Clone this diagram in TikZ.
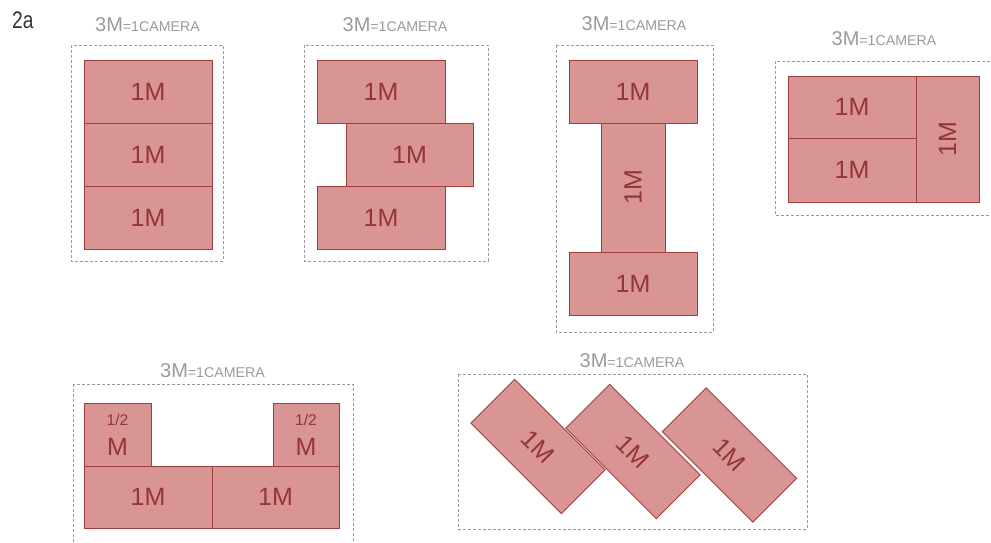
\documentclass[tikz,border=0pt]{standalone}
\usepackage{fontspec}
\setmainfont{Liberation Sans}
\definecolor{fillc}{HTML}{D99594}
\definecolor{bord}{HTML}{A03C3C}
\definecolor{txt}{HTML}{943634}
\definecolor{ttl}{HTML}{9A9A9A}
\definecolor{dsh}{HTML}{9A9A9A}
\tikzset{
  blk/.style={draw=bord, fill=fillc, line width=0.9pt, text=txt,
    font=\fontsize{25}{25}\selectfont, inner sep=0pt, align=center},
  frame/.style={draw=dsh, line width=0.8pt, dash pattern=on 3pt off 2pt},
  ttlnode/.style={text=ttl, anchor=base, inner sep=0pt}
}
\newcommand{\camtitle}{{\fontsize{20}{20}\selectfont 3M}{\fontsize{14.2}{14.2}\selectfont =1CAMERA}}
\begin{document}
\begin{tikzpicture}[x=1pt,y=-1pt]
\useasboundingbox (0,0) rectangle (991,542);
% label
\node[anchor=base west, inner sep=0pt, xscale=0.8, text=black!80, font=\fontsize{24}{24}\selectfont] (lab) at (12,28) {2a};
% ---------- panel 1
\draw[frame] (71,45) rectangle (223,261);
\node[ttlnode] (t1) at (147.5,31) {\camtitle};
\node[blk, minimum width=128pt, minimum height=63pt] (p1a) at (148,91.5) {1M};
\node[blk, minimum width=128pt, minimum height=63pt] (p1b) at (148,154.5) {1M};
\node[blk, minimum width=128pt, minimum height=63pt] (p1c) at (148,217.5) {1M};
% ---------- panel 2
\draw[frame] (304,45) rectangle (488,261);
\node[ttlnode] (t2) at (395,31) {\camtitle};
\node[blk, minimum width=128pt, minimum height=63pt] (p2a) at (381,91.5) {1M};
\node[blk, minimum width=127pt, minimum height=63pt] (p2b) at (409.5,154.5) {1M};
\node[blk, minimum width=128pt, minimum height=63pt] (p2c) at (381,217.5) {1M};
% ---------- panel 3
\draw[frame] (556,45) rectangle (713,332);
\node[ttlnode] (t3) at (634,30) {\camtitle};
\node[blk, minimum width=128pt, minimum height=63pt] (p3a) at (633,91.5) {1M};
\node[blk, minimum width=64pt, minimum height=129pt] (p3b) at (633,187.5) {\rotatebox{90}{1M}};
\node[blk, minimum width=128pt, minimum height=63pt] (p3c) at (633,283.5) {1M};
% ---------- panel 4
\draw[frame] (775,61) rectangle (996,215);
\node[ttlnode] (t4) at (884,45) {\camtitle};
\node[blk, minimum width=128pt, minimum height=62pt] (p4a) at (852,107) {1M};
\node[blk, minimum width=128pt, minimum height=64pt] (p4b) at (852,170) {1M};
\node[blk, minimum width=63pt, minimum height=126pt] (p4c) at (947.5,139) {\rotatebox{90}{1M}};
% ---------- panel 5
\draw[frame] (73,384) rectangle (353,550);
\node[ttlnode] (t5) at (212.5,377) {\camtitle};
\node[blk, minimum width=67pt, minimum height=63pt] (p5a) at (117.5,434.5) {};
\node[blk, minimum width=66pt, minimum height=63pt] (p5b) at (306,434.5) {};
\node[text=txt, anchor=base, inner sep=0pt, font=\fontsize{15.5}{15.5}\selectfont] (h5a) at (117.5,425) {1/2};
\node[text=txt, anchor=base, inner sep=0pt, font=\fontsize{25}{25}\selectfont] (m5a) at (117.5,455) {M};
\node[text=txt, anchor=base, inner sep=0pt, font=\fontsize{15.5}{15.5}\selectfont] (h5b) at (306,425) {1/2};
\node[text=txt, anchor=base, inner sep=0pt, font=\fontsize{25}{25}\selectfont] (m5b) at (306,455) {M};
\node[blk, minimum width=128pt, minimum height=62pt] (p5c) at (148,497) {1M};
\node[blk, minimum width=127pt, minimum height=62pt] (p5d) at (275.5,497) {1M};
% ---------- panel 6
\draw[frame] (458,374) rectangle (807,529);
\node[ttlnode] (t6) at (632,367) {\camtitle};
\node[blk, minimum width=128pt, minimum height=62pt, rotate=-45] (p6a) at (538,446.5) {};
\node[blk, minimum width=128pt, minimum height=62pt, rotate=-45] (p6b) at (633,451.5) {};
\node[blk, minimum width=128pt, minimum height=62pt, rotate=-45] (p6c) at (729.5,455) {};
\node[text=txt, inner sep=0pt, rotate=-45, font=\fontsize{25}{25}\selectfont] (l6a) at (p6a.center) {1M};
\node[text=txt, inner sep=0pt, rotate=-45, font=\fontsize{25}{25}\selectfont] (l6b) at (p6b.center) {1M};
\node[text=txt, inner sep=0pt, rotate=-45, font=\fontsize{25}{25}\selectfont] (l6c) at (p6c.center) {1M};
\end{tikzpicture}
\end{document}
